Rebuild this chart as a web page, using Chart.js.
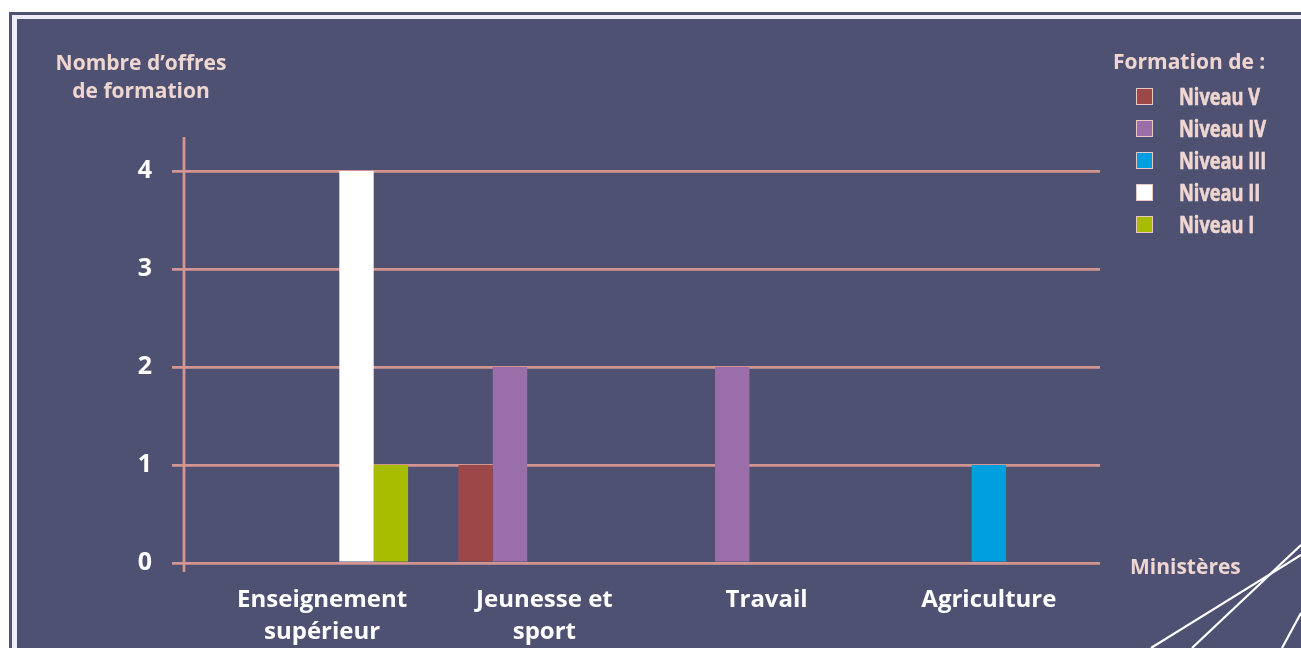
<!DOCTYPE html>
<html>
<head>
<meta charset="utf-8">
<script src="https://cdn.jsdelivr.net/npm/chart.js@4/dist/chart.umd.min.js"></script>
<style>
  html, body { margin:0; padding:0; width:1301px; height:648px; overflow:hidden; background:#ffffff; }
  .f1 { position:absolute; left:9px; top:12px; width:1400px; height:700px; background:#4f5173; }
  .f2 { position:absolute; left:12px; top:15px; width:1400px; height:700px; background:#eeecf4; }
  .f3 { position:absolute; left:17px; top:19px; width:1400px; height:700px; background:#4f5173; }
  svg.deco { position:absolute; left:0; top:0; }
  canvas { position:absolute; left:0; top:0; }
  .txt { position:absolute; font-family:"Open Sans", sans-serif; font-weight:700; color:#efd6d0; white-space:nowrap; }
  #ytitle { left:41px; top:48px; width:200px; text-align:center; font-size:21px; line-height:28px; }
  #xtitle { left:1130px; top:552px; font-size:21px; line-height:28px; }
  #legend { position:absolute; left:1113px; top:46px; }
  #legend .lt { font-family:"Open Sans", sans-serif; font-weight:700; font-size:21px; line-height:30px; color:#efd6d0; white-space:nowrap; margin-bottom:5px; }
  #legend .it { position:relative; height:32px; }
  #legend .sw { position:absolute; left:23px; top:7px; width:17px; height:17px; border:1px solid #e8c8c4; box-sizing:border-box; }
  #legend .lb { position:absolute; left:66px; top:-1px; font-family:"Open Sans", sans-serif; font-weight:700; font-size:24px; line-height:32px; color:#efd6d0; white-space:nowrap; transform:scaleX(0.76); transform-origin:0 50%; -webkit-text-stroke:0.6px #efd6d0; }
</style>
</head>
<body>
<div class="f1"></div><div class="f2"></div><div class="f3"></div>
<svg class="deco" width="1301" height="648">
  <g stroke="#ffffff" stroke-width="2.2" fill="none">
    <line x1="1192" y1="648" x2="1301" y2="545"/>
    <line x1="1151" y1="648" x2="1301" y2="555"/>
    <line x1="1282" y1="648" x2="1301" y2="613"/>
  </g>
</svg>
<canvas id="c" width="1301" height="648"></canvas>
<div class="txt" id="ytitle">Nombre d’offres<br>de formation</div>
<div class="txt" id="xtitle">Ministères</div>
<div id="legend"></div>
<script>
// ---- data ----
const categories = [["Enseignement", "supérieur"], ["Jeunesse et", "sport"], "Travail", "Agriculture"];
const seriesNames = ["Niveau V", "Niveau IV", "Niveau III", "Niveau II", "Niveau I"];
const niveauV   = [0, 1, 0, 0];
const niveauIV  = [0, 2, 2, 0];
const niveauIII = [0, 0, 0, 1];
const niveauII  = [4, 0, 0, 0];
const niveauI   = [1, 0, 0, 0];
const yTicks = [0, 1, 2, 3, 4];
const legendTitle = "Formation de :";

// ---- styles ----
const seriesColors = ["#9c4849", "#9a6ea9", "#009fe0", "#ffffff", "#a8bd00"];
const gridColor = "#d39591";
const seriesValues = [niveauV, niveauIV, niveauIII, niveauII, niveauI];

const axisLinePlugin = {
  id: "axisLine",
  beforeDatasetsDraw(chart) {
    const ctx = chart.ctx, y = chart.scales.y, a = chart.chartArea;
    const x = a.left - 27;
    ctx.save();
    ctx.strokeStyle = gridColor;
    ctx.lineWidth = 2.8;
    ctx.beginPath();
    ctx.moveTo(x, y.getPixelForValue(yTicks[yTicks.length - 1]) - 34);
    ctx.lineTo(x, a.bottom + 9);
    ctx.stroke();
    ctx.restore();
  }
};

const chart = new Chart(document.getElementById("c"), {
  type: "bar",
  data: {
    labels: categories,
    datasets: seriesNames.map((n, i) => ({
      label: n,
      data: seriesValues[i],
      backgroundColor: seriesColors[i],
      borderWidth: 0,
      categoryPercentage: 0.7735,
      barPercentage: 1.0
    }))
  },
  options: {
    responsive: false,
    animation: false,
    devicePixelRatio: 1,
    layout: { padding: { left: 0, top: 171, right: 201, bottom: 0 } },
    plugins: { legend: { display: false }, tooltip: { enabled: false } },
    scales: {
      x: {
        grid: { display: false },
        border: { display: false },
        afterFit: s => { s.height = 85; },
        ticks: {
          color: "#ffffff",
          font: { family: "Open Sans", weight: "bold", size: 24, lineHeight: 1.33 },
          padding: 13,
          maxRotation: 0,
          autoSkip: false
        }
      },
      y: {
        min: yTicks[0],
        max: yTicks[yTicks.length - 1],
        afterFit: s => { s.width = 211; },
        afterBuildTicks: s => { s.ticks = yTicks.map(v => ({ value: v })); },
        border: { display: false },
        grid: { color: gridColor, lineWidth: 2.8, tickLength: 39, drawTicks: true },
        ticks: {
          color: "#ffffff",
          font: { family: "Open Sans", weight: "bold", size: 25 },
          padding: 20,
          stepSize: 1
        }
      }
    }
  },
  plugins: [axisLinePlugin]
});

// ---- HTML legend built from the chart datasets ----
const lg = document.getElementById("legend");
const t = document.createElement("div");
t.className = "lt"; t.textContent = legendTitle; lg.appendChild(t);
chart.data.datasets.forEach(ds => {
  const it = document.createElement("div"); it.className = "it";
  const sw = document.createElement("div"); sw.className = "sw"; sw.style.background = ds.backgroundColor;
  const lb = document.createElement("div"); lb.className = "lb"; lb.textContent = ds.label;
  it.appendChild(sw); it.appendChild(lb); lg.appendChild(it);
});
</script>
</body>
</html>
